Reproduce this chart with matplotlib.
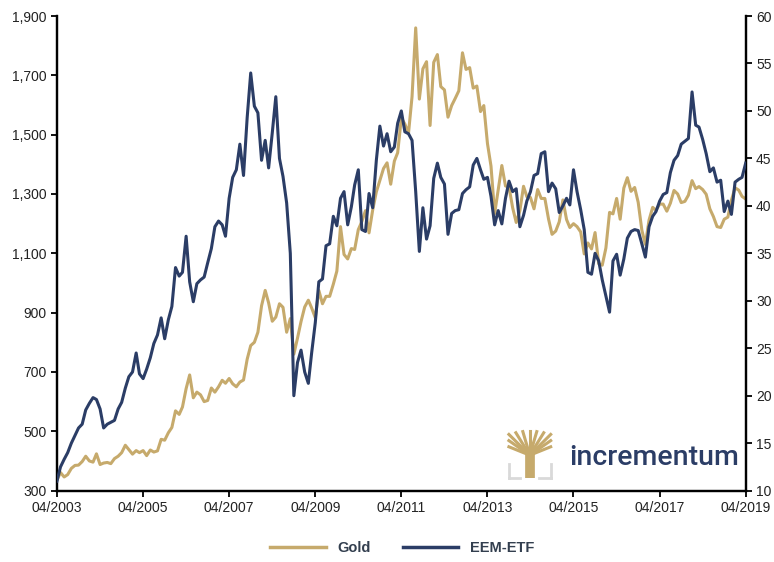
import pandas as pd
import matplotlib.pyplot as plt
import matplotlib.dates as mdates
from matplotlib.ticker import FuncFormatter, FixedLocator, MultipleLocator
from matplotlib.lines import Line2D

plt.rcParams['font.family'] = ['Liberation Sans', 'DejaVu Sans']

GOLD_COLOR = '#C6AA6C'
EEM_COLOR = '#2B3D66'

# monthly observations, 04/2003 - 04/2019
dates = pd.date_range('2003-04-01', '2019-04-01', freq='MS')

gold = [
    336, 361, 346, 354, 375, 385, 386, 398, 416,
    400, 396, 424, 388, 393, 395, 391, 408, 416, 428, 453, 438,
    423, 435, 428, 435, 418, 437, 430, 434, 473, 470, 495, 513,
    569, 557, 582, 644, 690, 613, 632, 623, 600, 604, 646, 632,
    650, 672, 662, 678, 660, 650, 666, 673, 743, 789, 800, 834,
    923, 975, 933, 871, 885, 930, 918, 834, 880, 760, 814, 870,
    919, 942, 916, 883, 975, 930, 955, 955, 996, 1040, 1190, 1096,
    1081, 1116, 1113, 1180, 1207, 1244, 1169, 1246, 1307, 1346, 1386, 1405,
    1333, 1411, 1439, 1556, 1536, 1505, 1628, 1860, 1620, 1722, 1746, 1531,
    1744, 1770, 1662, 1651, 1559, 1598, 1622, 1648, 1776, 1720, 1726, 1657,
    1664, 1578, 1598, 1470, 1394, 1234, 1314, 1396, 1327, 1323, 1253, 1204,
    1244, 1326, 1291, 1288, 1250, 1315, 1285, 1285, 1216, 1164, 1175, 1206,
    1280, 1214, 1187, 1200, 1190, 1172, 1098, 1135, 1115, 1170, 1065, 1060,
    1118, 1238, 1233, 1285, 1215, 1320, 1355, 1309, 1322, 1272, 1178, 1130,
    1212, 1255, 1245, 1266, 1266, 1242, 1269, 1312, 1300, 1271, 1275, 1296,
    1345, 1318, 1325, 1315, 1299, 1250, 1224, 1190, 1187, 1215, 1222, 1279,
    1321, 1313, 1292, 1283,
]

eem = [
    11.0, 12.5, 13.3, 14.0, 15.0, 15.8, 16.6, 17.0, 18.5,
    19.2, 19.8, 19.6, 18.6, 16.6, 17.0, 17.2, 17.4, 18.6, 19.3, 20.8, 22.0,
    22.5, 24.5, 22.3, 21.8, 22.8, 24.0, 25.5, 26.4, 28.2, 26.0, 28.0, 29.4,
    33.5, 32.6, 33.0, 36.8, 32.0, 29.9, 31.8, 32.2, 32.5, 34.0, 35.5, 37.8,
    38.4, 38.0, 36.8, 40.8, 43.0, 43.8, 46.5, 43.2, 49.3, 54.0, 50.5, 49.8,
    44.8, 46.9, 44.0, 47.7, 51.5, 45.0, 43.1, 40.3, 35.0, 20.0, 23.5, 24.8,
    22.5, 21.3, 24.5, 27.7, 32.0, 32.3, 35.8, 36.0, 38.9, 37.9, 40.8, 41.5,
    38.0, 39.9, 42.2, 43.8, 37.5, 37.3, 41.3, 39.8, 44.8, 48.4, 46.3, 47.6,
    45.7, 46.2, 48.7, 50.0, 47.8, 47.6, 46.9, 41.5, 35.2, 39.8, 36.5, 37.9,
    42.9, 44.5, 43.0, 42.3, 37.0, 39.2, 39.5, 39.6, 41.3, 41.7, 42.0, 44.3,
    45.0, 43.8, 42.8, 43.0, 41.0, 38.0, 39.5, 38.1, 40.8, 42.6, 41.5, 41.8,
    37.8, 39.0, 40.5, 41.5, 43.2, 43.4, 45.5, 45.7, 41.5, 42.4, 41.8, 39.3,
    40.0, 40.8, 40.1, 43.8, 41.5, 39.6, 37.5, 33.0, 32.8, 35.0, 34.2, 32.2,
    30.5, 28.8, 34.2, 34.9, 32.7, 34.4, 36.6, 37.3, 37.5, 37.4, 36.0, 34.6,
    37.8, 38.9, 39.4, 40.5, 41.2, 41.4, 43.5, 44.8, 45.3, 46.5, 46.8, 47.1,
    52.0, 48.5, 48.3, 47.0, 45.5, 43.6, 44.0, 42.5, 42.7, 39.4, 40.5, 39.1,
    42.5, 42.8, 43.0, 44.5,
]

gold_ticks = list(range(300, 2000, 200))

fig = plt.figure(figsize=(7.74, 5.62), dpi=100)
ax = fig.add_axes([0.0736, 0.127, 0.8898, 0.8445])
ax2 = ax.twinx()

ax.plot(dates, gold, color=GOLD_COLOR, lw=2.2, zorder=2)
ax2.plot(dates, eem, color=EEM_COLOR, lw=2.2, zorder=3)

ax.set_xlim(pd.Timestamp('2003-04-01'), pd.Timestamp('2019-04-01'))
ax.set_ylim(300, 1900)
ax2.set_ylim(10, 60)
ax.yaxis.set_major_locator(FixedLocator(gold_ticks))
ax2.yaxis.set_major_locator(MultipleLocator(5))
ax.yaxis.set_major_formatter(FuncFormatter(lambda v, p: f'{v:,.0f}'))

ax.xaxis.set_major_locator(mdates.MonthLocator(bymonth=4, interval=24))
ax.xaxis.set_major_formatter(mdates.DateFormatter('%m/%Y'))

for a in (ax, ax2):
    a.spines['top'].set_visible(False)
    for s in ('left', 'right', 'bottom'):
        a.spines[s].set_linewidth(1.6)
        a.spines[s].set_color('black')
    a.tick_params(direction='out', length=4, width=1.3, labelsize=10,
                  colors='black', labelcolor='#222222')

# logo
logo_x0, logo_y0 = 0.657, 0.150
for dx in (0.0, 0.04):
    fig.add_artist(Line2D([logo_x0 + dx, logo_x0 + dx + 0.015], [logo_y0, logo_y0],
                          color='#D9D9D9', lw=2, transform=fig.transFigure))
fig.add_artist(Line2D([logo_x0, logo_x0], [logo_y0, logo_y0 + 0.025],
                      color='#D9D9D9', lw=2, transform=fig.transFigure))
fig.add_artist(Line2D([logo_x0 + 0.055, logo_x0 + 0.055], [logo_y0, logo_y0 + 0.025],
                      color='#D9D9D9', lw=2, transform=fig.transFigure))
trunk_x = logo_x0 + 0.0275
fig.add_artist(Line2D([trunk_x, trunk_x], [logo_y0, logo_y0 + 0.045],
                      color=GOLD_COLOR, lw=7, solid_capstyle='butt',
                      transform=fig.transFigure))
for bx, by in [(-0.027, 0.077), (-0.018, 0.08), (-0.009, 0.082), (0.0, 0.083),
               (0.009, 0.082), (0.018, 0.08), (0.027, 0.077),
               (-0.027, 0.055), (0.027, 0.055), (-0.027, 0.066), (0.027, 0.066)]:
    fig.add_artist(Line2D([trunk_x, trunk_x + bx], [logo_y0 + 0.04, logo_y0 + by],
                          color=GOLD_COLOR, lw=2.2, transform=fig.transFigure))
fig.text(0.736, 0.186, 'incrementum', color=EEM_COLOR, fontsize=20.5,
         fontweight='medium', va='center', ha='left',
         family=['Roboto', 'Liberation Sans'])

handles = [Line2D([], [], color=GOLD_COLOR, lw=2.5),
           Line2D([], [], color=EEM_COLOR, lw=2.5)]
fig.legend(handles, ['Gold', 'EEM-ETF'], loc='center', bbox_to_anchor=(0.52, 0.025),
           ncol=2, frameon=False, handlelength=3.8, columnspacing=2.2,
           prop={'weight': 'bold', 'size': 10.5}, labelcolor='#333F4F')

fig.savefig('out.png', dpi=100)
